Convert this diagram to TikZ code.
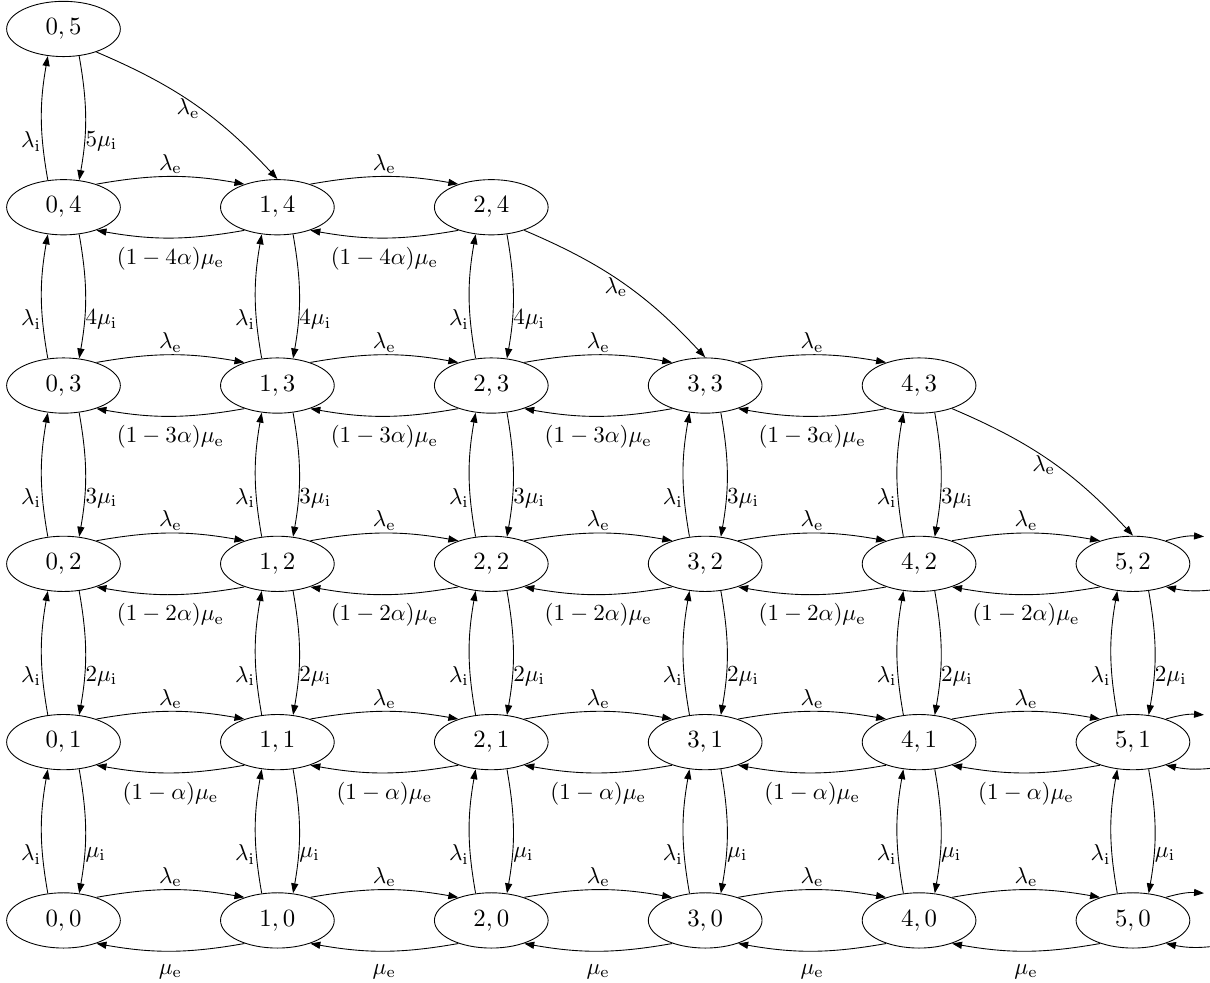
\documentclass[tikz,border=0pt]{standalone}
\usetikzlibrary{arrows.meta,shapes.geometric}
\begin{document}
\begin{tikzpicture}[
  x=1pt, y=1pt, line width=0.5pt,
  state/.style={draw, ellipse, scale=1.4, minimum width=45.86pt, minimum height=22.29pt,
                inner sep=0pt},
  tr/.style={-{Triangle[length=5.6pt,width=4pt]}, bend left=10},
  diag/.style={-{Triangle[length=5.6pt,width=4pt]}, bend left=12},
  lab/.style={scale=1.3},
  toplab/.style={lab, pos=0.5, anchor=center, yshift=5.45pt},
  botlab/.style={lab, pos=0.5, anchor=center, yshift=-9pt},
  uplab/.style={lab, pos=0.3, left, inner sep=0.4pt},
  dnlab/.style={lab, pos=0.7, right, inner sep=0.2pt},
  diaglab/.style={lab, pos=0.5, anchor=center, xshift=-2.85pt, yshift=-1.77pt},
]
\useasboundingbox (0,0) rectangle (683.2,555);
\clip (0,0) rectangle (683.2,555);

% states (i,j): row j holds columns 0..m
\foreach \j/\m in {0/5,1/5,2/5,3/4,4/2,5/0}
  \foreach \i in {0,...,\m}
    \node[state] (n\i\j) at ({35.85+120.77*\i},{35.3+100.67*\j}) {$\i,\j$};

% horizontal transitions
\foreach \j/\m/\lab in {0/4/{\mu_{\mathrm{e}}},
                        1/4/{(1-\alpha)\mu_{\mathrm{e}}},
                        2/4/{(1-2\alpha)\mu_{\mathrm{e}}},
                        3/3/{(1-3\alpha)\mu_{\mathrm{e}}},
                        4/1/{(1-4\alpha)\mu_{\mathrm{e}}}}
  \foreach \i in {0,...,\m} {
    \pgfmathtruncatemacro\k{\i+1}
    \draw[tr] (n\i\j.35) to node[toplab] {$\lambda_{\mathrm{e}}$} (n\k\j.145);
    \draw[tr] (n\k\j.215) to node[botlab] {$\lab$} (n\i\j.325);
  }

% vertical transitions between rows j and j+1
\foreach \j/\m/\lab in {0/5/{\mu_{\mathrm{i}}},
                        1/5/{2\mu_{\mathrm{i}}},
                        2/4/{3\mu_{\mathrm{i}}},
                        3/2/{4\mu_{\mathrm{i}}},
                        4/0/{5\mu_{\mathrm{i}}}}
  \foreach \i in {0,...,\m} {
    \pgfmathtruncatemacro\k{\j+1}
    \draw[tr] (n\i\j.120) to node[uplab] {$\lambda_{\mathrm{i}}$} (n\i\k.240);
    \draw[tr] (n\i\k.300) to node[dnlab] {$\lab$} (n\i\j.60);
  }

% diagonal transitions
\draw[diag] (n05.325) to node[diaglab] {$\lambda_{\mathrm{e}}$} (n14.north);
\draw[diag] (n24.325) to node[diaglab] {$\lambda_{\mathrm{e}}$} (n33.north);
\draw[diag] (n43.325) to node[diaglab] {$\lambda_{\mathrm{e}}$} (n52.north);

% transitions leaving the drawn part of the chain
\foreach \j in {0,1,2} {
  \coordinate (out\j) at (679.8,{35.3+100.67*\j+15.4});
  \coordinate (in\j)  at (690,{35.3+100.67*\j-14});
  \draw[tr] (n5\j.35) to (out\j);
  \draw[tr] (in\j) to (n5\j.325);
}
\end{tikzpicture}
\end{document}
